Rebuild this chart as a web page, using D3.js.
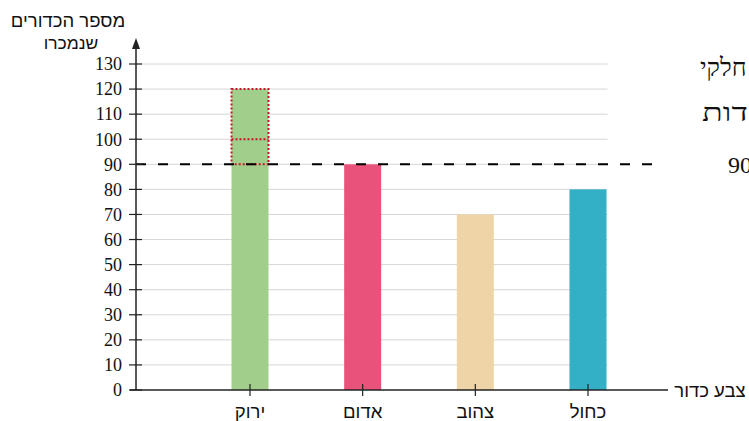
<!DOCTYPE html>
<html lang="he">
<head>
<meta charset="utf-8">
<script src="https://cdn.jsdelivr.net/npm/d3@7"></script>
<style>
  html, body { margin: 0; padding: 0; background: #fff; overflow: hidden; }
  svg { display: block; }
</style>
</head>
<body>
<div id="chart"></div>
<script>
// Data
const colors = ['ירוק', 'אדום', 'צהוב', 'כחול'];
const sold = [120, 90, 70, 80];
const barColors = ['#a1cf8b', '#e9527b', '#efd4a7', '#33b0c6'];
const yTicks = d3.range(0, 131, 10);
const targetLine = 90;
// dotted boxes drawn over the green bar
const dottedLevels = [90, 100, 120];
const yTitle = ['מספר הכדורים', 'שנמכרו'];
const xTitle = 'צבע כדור';
// text that runs off the right edge in the original
const sideText = ['חלקי', 'דות', '90'];

const width = 749, height = 421;
const serif = '"Liberation Serif", "Times New Roman", serif';
const sans = '"Liberation Sans", Arial, sans-serif';

const svg = d3.select('#chart').append('svg')
  .attr('width', width)
  .attr('height', height);

// Scales
const x0 = 136, yBase = 390;
const y = d3.scaleLinear().domain([0, 130]).range([yBase, 64]);
const x = d3.scalePoint().domain(colors).range([250, 588]);
const barW = 37;

// Gridlines
svg.append('g')
  .selectAll('line')
  .data(yTicks.filter(d => d > 0))
  .join('line')
  .attr('x1', x0)
  .attr('x2', x(colors[3]) + barW / 2 + 1)
  .attr('y1', d => y(d))
  .attr('y2', d => y(d))
  .attr('stroke', '#d6d6d6')
  .attr('stroke-width', 1);

// Bars
svg.append('g')
  .selectAll('rect')
  .data(colors)
  .join('rect')
  .attr('x', d => x(d) - barW / 2)
  .attr('y', (d, i) => y(sold[i]))
  .attr('width', barW)
  .attr('height', (d, i) => yBase - y(sold[i]))
  .attr('fill', (d, i) => barColors[i]);

// Dotted boxes over green bar
const gx = x(colors[0]) - barW / 2;
const dotted = svg.append('g')
  .attr('fill', 'none')
  .attr('stroke', '#c8142a')
  .attr('stroke-width', 2)
  .attr('stroke-dasharray', '2,2');
dotted.append('rect')
  .attr('x', gx)
  .attr('y', y(dottedLevels[2]))
  .attr('width', barW)
  .attr('height', y(dottedLevels[0]) - y(dottedLevels[2]));
dotted.append('line')
  .attr('x1', gx)
  .attr('x2', gx + barW)
  .attr('y1', y(dottedLevels[1]))
  .attr('y2', y(dottedLevels[1]));

// Dashed target line
svg.append('line')
  .attr('x1', x0)
  .attr('x2', 662)
  .attr('y1', y(targetLine))
  .attr('y2', y(targetLine))
  .attr('stroke', '#000')
  .attr('stroke-width', 2)
  .attr('stroke-dasharray', '10,12');

// Y axis
const yAxis = svg.append('g');
yAxis.append('line')
  .attr('x1', x0).attr('x2', x0)
  .attr('y1', yBase).attr('y2', 44)
  .attr('stroke', '#222')
  .attr('stroke-width', 1.5);
yAxis.append('path')
  .attr('d', `M${x0},38 L${x0 - 4},49 L${x0 + 4},49 Z`)
  .attr('fill', '#222');
yAxis.selectAll('line.tick')
  .data(yTicks)
  .join('line')
  .attr('class', 'tick')
  .attr('x1', x0 - 7).attr('x2', x0 + 6)
  .attr('y1', d => y(d)).attr('y2', d => y(d))
  .attr('stroke', '#222')
  .attr('stroke-width', 1.2);
yAxis.selectAll('text')
  .data(yTicks)
  .join('text')
  .attr('x', x0 - 14)
  .attr('y', d => y(d))
  .attr('dy', '0.35em')
  .attr('text-anchor', 'end')
  .attr('font-family', serif)
  .attr('font-size', 18)
  .attr('fill', '#111')
  .text(d => d);

// Y title
svg.selectAll('text.ytitle')
  .data(yTitle)
  .join('text')
  .attr('class', 'ytitle')
  .attr('x', (d, i) => i === 0 ? 68 : 71)
  .attr('y', (d, i) => i === 0 ? 27 : 49)
  .attr('text-anchor', 'middle')
  .attr('font-family', sans)
  .attr('font-size', (d, i) => i === 0 ? 18.5 : 17.5)
  .attr('fill', '#111')
  .text(d => d);

// X axis
svg.append('line')
  .attr('x1', x0 - 6).attr('x2', 668)
  .attr('y1', yBase).attr('y2', yBase)
  .attr('stroke', '#222')
  .attr('stroke-width', 1.5);
svg.append('g')
  .selectAll('line')
  .data(colors)
  .join('line')
  .attr('x1', d => x(d)).attr('x2', d => x(d))
  .attr('y1', yBase - 6).attr('y2', yBase + 6)
  .attr('stroke', '#222')
  .attr('stroke-width', 1.2);
svg.append('g')
  .selectAll('text')
  .data(colors)
  .join('text')
  .attr('x', d => x(d))
  .attr('y', 418)
  .attr('text-anchor', 'middle')
  .attr('font-family', sans)
  .attr('font-size', 18.5)
  .attr('fill', '#111')
  .text(d => d);

svg.append('text')
  .attr('x', 710)
  .attr('y', 397)
  .attr('text-anchor', 'middle')
  .attr('font-family', sans)
  .attr('font-size', 18.5)
  .attr('fill', '#111')
  .text(xTitle);

// Text cut off on the right edge
const side = svg.selectAll('text.side')
  .data(sideText)
  .join('text')
  .attr('class', 'side')
  .attr('x', (d, i) => [700, 702, 728][i])
  .attr('y', (d, i) => [76, 121, 173][i])
  .attr('text-anchor', 'start')
  .attr('direction', 'ltr')
  .attr('font-family', serif)
  .attr('font-size', (d, i) => i < 2 ? 25 : 24)
  .attr('fill', '#111')
  .text(d => d);
side.filter((d, i) => i === 1)
  .attr('textLength', 46)
  .attr('lengthAdjust', 'spacingAndGlyphs');
</script>
</body>
</html>
